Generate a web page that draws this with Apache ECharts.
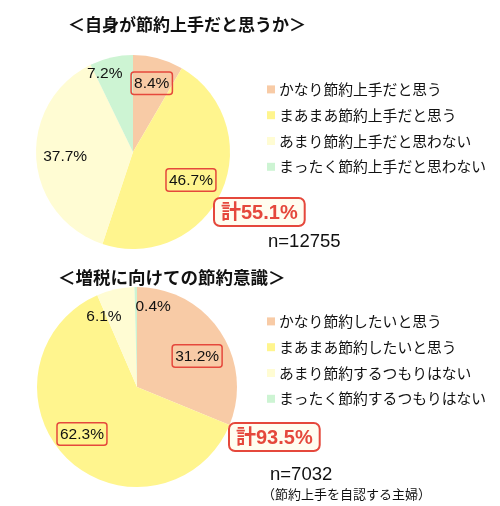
<!DOCTYPE html>
<html>
<head>
<meta charset="utf-8">
<script src="https://cdn.jsdelivr.net/npm/echarts@6/dist/echarts.min.js"></script>
<style>
  html, body { margin: 0; padding: 0; background: #fff; }
  #chart { width: 500px; height: 506px; }
</style>
</head>
<body>
<div id="chart"></div>
<script>
// data
const title1 = '＜自身が節約上手だと思うか＞';
const names1 = ['かなり節約上手だと思う', 'まあまあ節約上手だと思う', 'あまり節約上手だと思わない', 'まったく節約上手だと思わない'];
const values1 = [8.4, 46.7, 37.7, 7.2];
const n1 = 12755;

const title2 = '＜増税に向けての節約意識＞';
const names2 = ['かなり節約したいと思う', 'まあまあ節約したいと思う', 'あまり節約するつもりはない', 'まったく節約するつもりはない'];
const values2 = [31.2, 62.3, 6.1, 0.4];
const n2 = 7032;
const note2 = '（節約上手を自認する主婦）';

const colors = ['#F8CBA6', '#FFF58E', '#FFFCD3', '#CDF4D3'];
const red = '#E5483C';
const jp = '"Noto Sans CJK JP", sans-serif';
const latin = '"Liberation Sans", "Noto Sans CJK JP", sans-serif';

// label nudges (px) per slice
const nudge1 = [[1, -3], [-4, 0], [0, 0], [-13, -12]];
const nudge2 = [[2, 8], [-6, -3], [-18, -2], [17, -10]];

const sum1 = (values1[0] + values1[1]).toFixed(1);
const sum2 = (values2[0] + values2[1]).toFixed(1);

const chart = echarts.init(document.getElementById('chart'));

function toData(names, values) {
  return names.map((nm, i) => ({ name: nm, value: values[i] }));
}

function pieSeries(names, values, center, r) {
  return {
    type: 'pie',
    center: center,
    radius: [0, r],
    startAngle: 90,
    clockwise: true,
    silent: true,
    color: colors,
    itemStyle: { borderWidth: 0 },
    label: { show: false },
    labelLine: { show: false },
    data: toData(names, values)
  };
}

function labelSeries(names, values, center, r, nudge) {
  return {
    type: 'pie',
    center: center,
    radius: [r * 0.34, r],
    startAngle: 90,
    clockwise: true,
    silent: true,
    z: 5,
    itemStyle: { color: 'rgba(0,0,0,0)', borderWidth: 0 },
    labelLine: { show: false },
    label: {
      show: true,
      position: 'inside',
      formatter: p => p.dataIndex < 2 ? '{box|' + p.value.toFixed(1) + '%}' : '{plain|' + p.value.toFixed(1) + '%}',
      rich: {
        box: {
          fontFamily: latin, fontSize: 15.5, color: '#111',
          borderColor: red, borderWidth: 1.5, borderRadius: 3,
          padding: [4, 3, 3, 3]
        },
        plain: { fontFamily: latin, fontSize: 15.5, color: '#111' }
      }
    },
    labelLayout: p => ({ dx: nudge[p.dataIndex][0], dy: nudge[p.dataIndex][1] }),
    data: toData(names, values)
  };
}

const legendBase = {
  orient: 'vertical',
  icon: 'rect',
  itemWidth: 8,
  itemHeight: 8,
  itemGap: 11,
  selectedMode: false,
  textStyle: { fontFamily: jp, fontSize: 14.8, color: '#111', padding: [0, 0, 0, -1] }
};

chart.setOption({
  animation: false,
  title: [
    { text: title1, left: 63, top: 11, textStyle: { fontFamily: jp, fontSize: 17, fontWeight: 'bold', color: '#111' } },
    { text: title2, left: 53, top: 264, textStyle: { fontFamily: jp, fontSize: 17.5, fontWeight: 'bold', color: '#111' } }
  ],
  legend: [
    Object.assign({}, legendBase, { data: names1, left: 262, top: 77 }),
    Object.assign({}, legendBase, { data: names2, left: 262, top: 309 })
  ],
  series: [
    pieSeries(names1, values1, [133, 152], 97),
    labelSeries(names1, values1, [133, 152], 97, nudge1),
    pieSeries(names2, values2, [137, 387], 100),
    labelSeries(names2, values2, [137, 387], 100, nudge2)
  ],
  graphic: [
    {
      type: 'text', left: 213, top: 197, z: 10,
      style: {
        text: '計' + sum1 + '%', fontFamily: latin, fontSize: 20, fontWeight: 'bold', fill: red,
        backgroundColor: '#FFFDF0', borderColor: red, borderWidth: 2, borderRadius: 5, padding: [4, 6, 2, 6]
      }
    },
    {
      type: 'text', left: 228, top: 422, z: 10,
      style: {
        text: '計' + sum2 + '%', fontFamily: latin, fontSize: 20, fontWeight: 'bold', fill: red,
        backgroundColor: '#FFFDF0', borderColor: red, borderWidth: 2, borderRadius: 5, padding: [4, 6, 2, 6]
      }
    },
    { type: 'text', left: 268, top: 233, style: { text: 'n=' + n1, fontFamily: latin, fontSize: 18.5, fill: '#111' } },
    { type: 'text', left: 270, top: 466, style: { text: 'n=' + n2, fontFamily: latin, fontSize: 18.5, fill: '#111' } },
    { type: 'text', left: 262, top: 488, style: { text: note2, fontFamily: jp, fontSize: 13, fill: '#111' } }
  ]
});
</script>
</body>
</html>
